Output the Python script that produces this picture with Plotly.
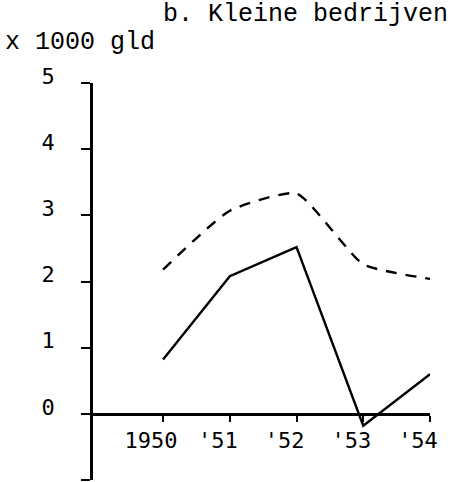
import plotly.graph_objects as go

# values (x 1000 gld)
years = [1950, 1951, 1952, 1953, 1954]
year_labels = ["1950", "'51", "'52", "'53", "'54"]
solid_values = [0.82, 2.08, 2.52, -0.18, 0.6]
dashed_values = [2.18, 3.07, 3.33, 2.26, 2.04]
y_ticks = [-1, 0, 1, 2, 3, 4, 5]
y_tick_labels = ["", "0", "1", "2", "3", "4", "5"]

mono = "Liberation Mono, DejaVu Sans Mono, monospace"
tick_font = dict(family="DejaVu Sans Mono, monospace", size=22, color="black")

W, H = 450, 482
L, T = 93, 83
PW, PH = 337, 397

fig = go.Figure()

fig.add_trace(go.Scatter(
    x=years, y=dashed_values, mode="lines",
    line=dict(color="black", width=2.4, dash="11px,9px", shape="spline", smoothing=0.5),
    showlegend=False, hoverinfo="skip", cliponaxis=False
))
fig.add_trace(go.Scatter(
    x=years, y=solid_values, mode="lines",
    line=dict(color="black", width=2.4),
    showlegend=False, hoverinfo="skip", cliponaxis=False
))

fig.update_layout(
    width=W, height=H,
    margin=dict(l=L, r=W - L - PW, t=T, b=H - T - PH),
    plot_bgcolor="white", paper_bgcolor="white",
    xaxis=dict(
        range=[1948.95, 1954], anchor="free", position=1 / 6, automargin=False,
        tickvals=years, ticktext=year_labels,
        showgrid=False, zeroline=False,
        showline=True, linecolor="black", linewidth=2.5,
        ticks="outside", ticklen=6, tickwidth=2, tickcolor="black",
        tickfont=tick_font, ticklabelshift=-12, ticklabelstandoff=0
    ),
    yaxis=dict(
        range=[-1, 5], tickvals=y_ticks, ticktext=y_tick_labels, automargin=False,
        showgrid=False, zeroline=False,
        showline=True, linecolor="black", linewidth=2.8,
        ticks="outside", ticklen=9, tickwidth=2, tickcolor="black",
        tickfont=tick_font, ticklabelshift=-7, ticklabelstandoff=22
    ),
    annotations=[
        dict(text="b. Kleine bedrijven", xref="paper", yref="paper",
             x=(161 - 93) / PW, y=1 + (83 + 2) / PH,
             xanchor="left", yanchor="top", showarrow=False,
             font=dict(family=mono, size=25, color="black")),
        dict(text="x 1000 gld", xref="paper", yref="paper",
             x=(3 - 93) / PW, y=1 + (83 - 43) / PH,
             xanchor="left", yanchor="middle", showarrow=False,
             font=dict(family=mono, size=25, color="black")),
    ],
)

# drop the default page margin so the figure sits at the window's corner
fig.write_html("out.html", config={"displayModeBar": False},
               post_script="document.body.style.margin = '0';")
